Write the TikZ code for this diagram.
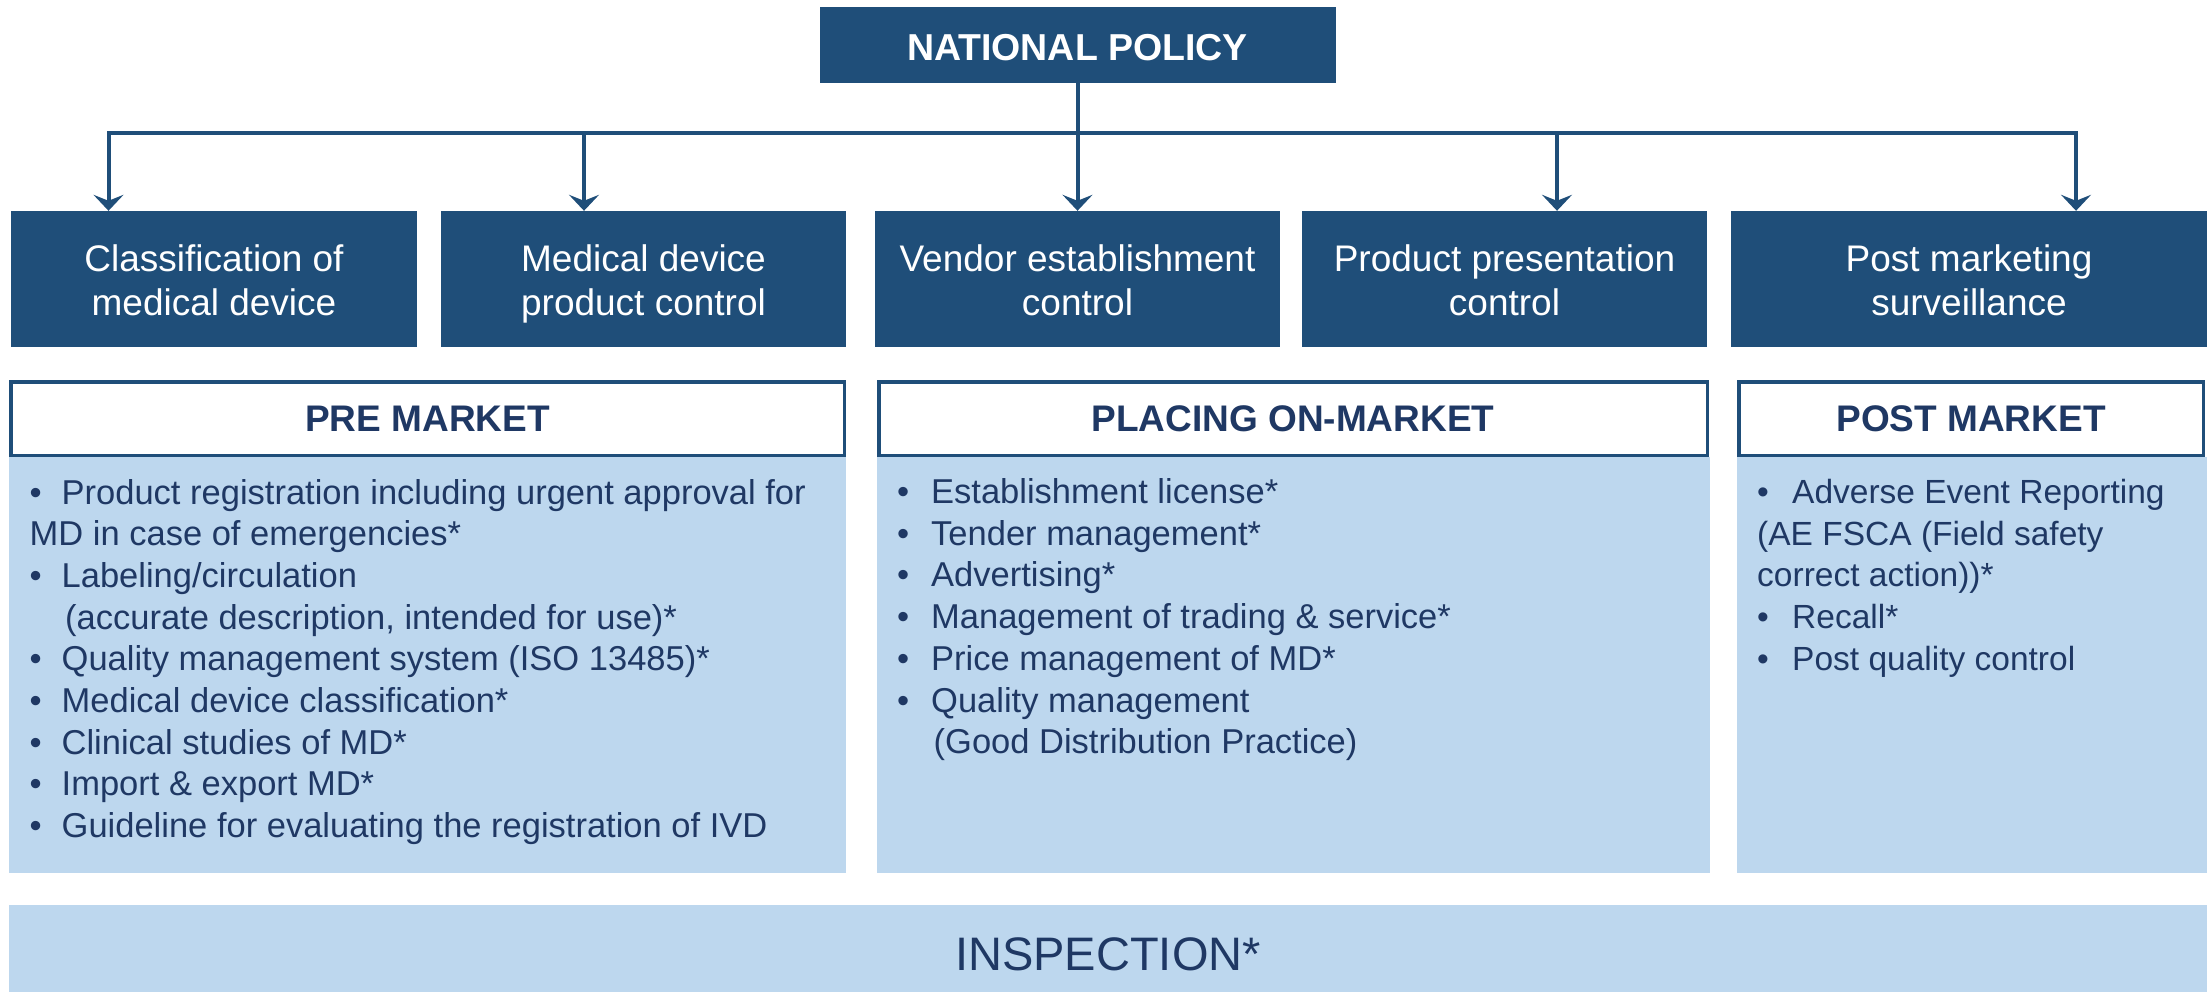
\documentclass[tikz,border=0pt]{standalone}
\usepackage{fontspec}
\setmainfont{Liberation Sans}
\usetikzlibrary{arrows.meta}
\definecolor{dblue}{HTML}{1F4E79}
\definecolor{lblue}{HTML}{BDD7EE}
\definecolor{navy}{HTML}{1F3864}
\newcommand\bl[1]{\makebox[#1][l]{\textbullet}}
\newcommand\vlines[1]{\vtop{\baselineskip=41.7pt\lineskiplimit=-100pt\lineskip=0pt #1}}
\newcommand\dph{\vphantom{p}}
\newcommand\uph{\rule{0pt}{36pt}}
\begin{document}
\begin{tikzpicture}[x=1pt,y=-1pt,
  darkbox/.style={fill=dblue, text=white, inner sep=0pt, align=center, font=\fontsize{37}{44}\selectfont},
  natbox/.style={darkbox, font=\fontsize{37.5}{44}\selectfont\bfseries},
  hdr/.style={draw=dblue, line width=3.5pt, fill=white, text=navy, inner sep=0pt, font=\fontsize{37}{44}\selectfont\bfseries},
  body/.style={fill=lblue, inner sep=0pt},
  txt/.style={text=navy, inner sep=0pt, anchor=base west, font=\fontsize{34.5}{41.7}\selectfont},
  conn/.style={draw=dblue, line width=4pt},
  arr/.style={conn, -{Stealth[length=16pt,width=30pt,inset=6pt]}}]
\useasboundingbox (0,0) rectangle (2207,992);
% top
\node[natbox, minimum width=516pt, minimum height=76pt] (nat) at (1077.5,45) {\raisebox{-3pt}[\height][\depth]{NATIONAL POLICY}};
% second row
\node[darkbox, minimum width=406pt, minimum height=136pt] (b1) at (214,279) {\uph Classification of\\medical device\dph};
\node[darkbox, minimum width=405pt, minimum height=136pt] (b2) at (643.5,279) {\uph Medical device\\product control\dph};
\node[darkbox, minimum width=405pt, minimum height=136pt] (b3) at (1077.5,279) {\uph Vendor establishment\\control\dph};
\node[darkbox, minimum width=405pt, minimum height=136pt] (b4) at (1504.5,279) {\uph Product presentation\\control\dph};
\node[darkbox, minimum width=476pt, minimum height=136pt] (b5) at (1969,279) {\uph Post marketing\\surveillance\dph};
% connectors
\coordinate (a3) at (1077.5,133);
\coordinate (busL) at (108.5,133);
\coordinate (busR) at (2076,133);
\coordinate (a2) at (584,133);
\coordinate (a4) at (1557,133);
\draw[arr] (nat.south) -- (nat.south |- b3.north);
\draw[arr] (a3) -- (busL) -- (busL |- b1.north);
\draw[arr] (a3) -- (busR) -- (busR |- b5.north);
\draw[arr] (a2) -- (a2 |- b2.north);
\draw[arr] (a4) -- (a4 |- b4.north);
% bodies
\node[body, minimum width=837pt, minimum height=416pt] (prebody) at (427.5,665) {};
\node[body, minimum width=833pt, minimum height=416pt] (plabody) at (1293.5,665) {};
\node[body, minimum width=470pt, minimum height=416pt] (postbody) at (1972,665) {};
% headers
\node[hdr, minimum width=833.5pt, minimum height=73.5pt] (prehdr) at (427.5,418.5) {PRE MARKET};
\node[hdr, minimum width=828.5pt, minimum height=73.5pt] (plahdr) at (1293,418.5) {PLACING ON-MARKET};
\node[hdr, minimum width=464.5pt, minimum height=73.5pt] (posthdr) at (1971,418.5) {POST MARKET};
% texts
\node[txt] (pretxt) at (29.5,504) {\vlines{%
\hbox{\bl{32pt}Product registration including urgent approval for}
\hbox{MD in case of emergencies*}
\hbox{\bl{32pt}Labeling/circulation}
\hbox{\hspace{35.5pt}(accurate description, intended for use)*}
\hbox{\bl{32pt}Quality management system (ISO 13485)*}
\hbox{\bl{32pt}Medical device classification*}
\hbox{\bl{32pt}Clinical studies of MD*}
\hbox{\bl{32pt}Import \& export MD*}
\hbox{\bl{32pt}Guideline for evaluating the registration of IVD}}};
\node[txt] (platxt) at (897,503.5) {\vlines{%
\hbox{\bl{34pt}Establishment license*}
\hbox{\bl{34pt}Tender management*}
\hbox{\bl{34pt}Advertising*}
\hbox{\bl{34pt}Management of trading \& service*}
\hbox{\bl{34pt}Price management of MD*}
\hbox{\bl{34pt}Quality management}
\hbox{\hspace{36.5pt}(Good Distribution Practice)}}};
\node[txt, font=\fontsize{33.5}{41.7}\selectfont] (posttxt) at (1757,503.5) {\vlines{%
\hbox{\bl{35pt}Adverse Event Reporting}
\hbox{(AE FSCA (Field safety}
\hbox{correct action))*}
\hbox{\bl{35pt}Recall*}
\hbox{\bl{35pt}Post quality control}}};
% inspection
\node[body, text=navy, minimum width=2198pt, minimum height=87pt, font=\fontsize{47}{56}\selectfont] (insp) at (1108,948.5) {\raisebox{-6pt}[\height][\depth]{INSPECTION*}};
\end{tikzpicture}
\end{document}
